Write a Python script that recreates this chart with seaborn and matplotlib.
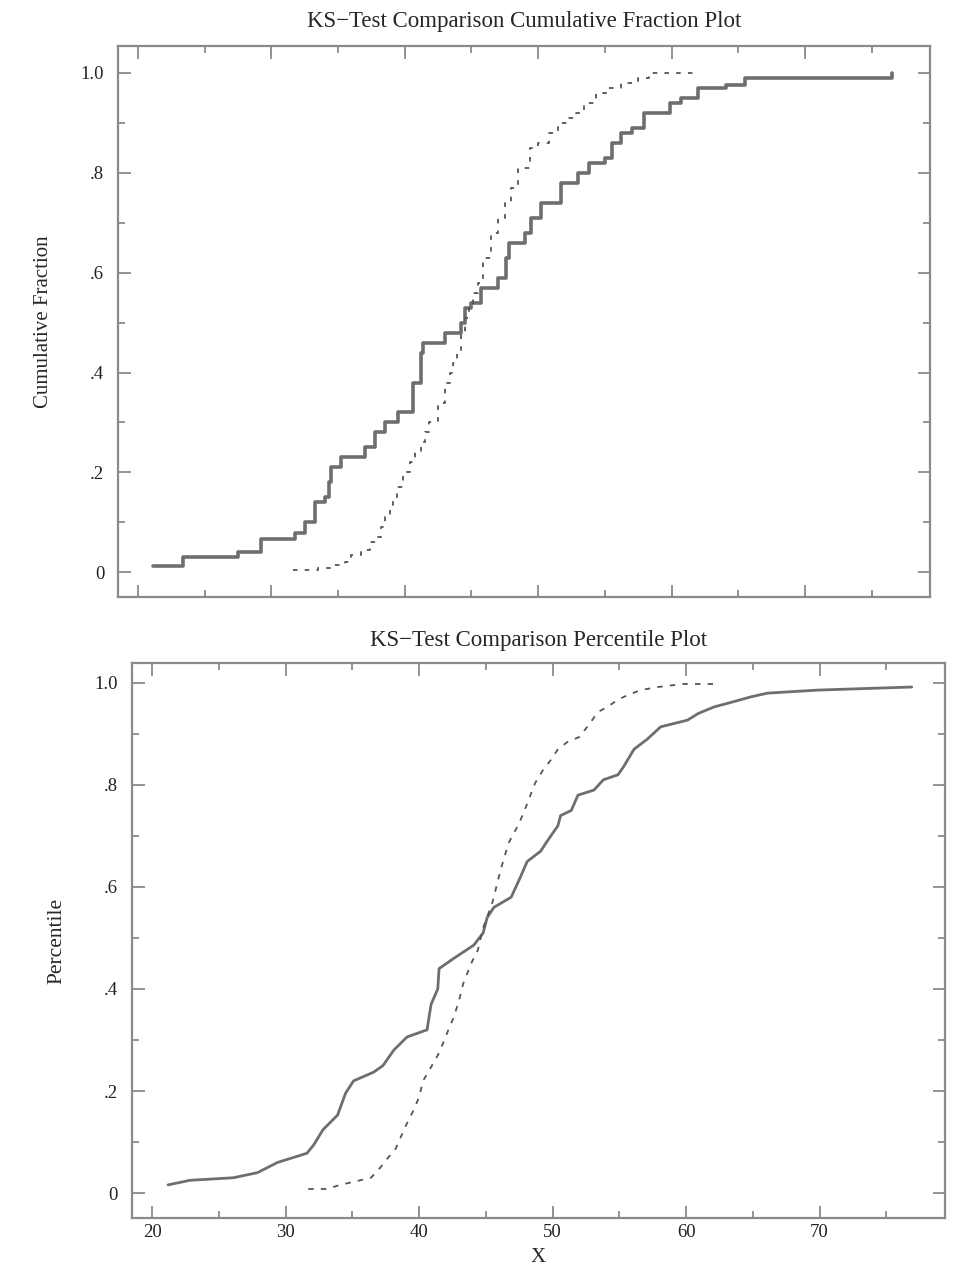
import numpy as np
import pandas as pd
import matplotlib
matplotlib.use("Agg")
import matplotlib.pyplot as plt
from matplotlib.ticker import MultipleLocator, FuncFormatter
import seaborn as sns

# sample 1 (solid) cumulative fraction steps
cum1_x = [21.1, 23.4, 27.5, 29.2, 31.8, 32.5, 33.3, 34.0, 34.3, 34.5, 35.2, 37.0,
          37.8, 38.5, 39.5, 40.6, 41.2, 41.4, 43.0, 44.2, 44.5, 45.0, 45.7, 47.0,
          47.6, 47.8, 49.0, 49.5, 50.2, 51.7, 53.0, 53.8, 55.0, 55.5, 56.2, 57.0,
          57.9, 59.9, 60.7, 62.0, 64.1, 65.5, 76.5]
cum1_y = [0.012, 0.03, 0.04, 0.066, 0.078, 0.10, 0.14, 0.15, 0.18, 0.21, 0.23, 0.25,
          0.28, 0.30, 0.32, 0.38, 0.44, 0.46, 0.48, 0.50, 0.53, 0.54, 0.57, 0.59,
          0.63, 0.66, 0.68, 0.71, 0.74, 0.78, 0.80, 0.82, 0.83, 0.86, 0.88, 0.89,
          0.92, 0.94, 0.95, 0.97, 0.975, 0.99, 1.0]

# sample 2 (dashed) cumulative fraction steps
cum2_x = [31.6, 33.5, 34.5, 35.5, 36.0, 36.7, 37.4, 37.9, 38.2, 38.5, 38.9, 39.1,
          39.4, 39.9, 40.4, 40.8, 41.2, 41.5, 41.8, 42.5, 43.0, 43.4, 43.6, 43.9,
          44.2, 44.5, 44.8, 45.1, 45.5, 45.9, 46.5, 47.0, 47.5, 48.0, 48.5, 49.4,
          50.0, 50.8, 51.5, 52.3, 52.8, 53.4, 54.3, 55.3, 56.2, 57.5, 58.3, 62.0]
cum2_y = [0.004, 0.008, 0.014, 0.02, 0.034, 0.044, 0.06, 0.07, 0.09, 0.11, 0.128, 0.15,
          0.17, 0.20, 0.22, 0.24, 0.26, 0.28, 0.30, 0.34, 0.38, 0.40, 0.42, 0.44,
          0.48, 0.51, 0.53, 0.56, 0.58, 0.63, 0.68, 0.71, 0.74, 0.77, 0.81, 0.85,
          0.86, 0.88, 0.90, 0.91, 0.92, 0.94, 0.96, 0.97, 0.98, 0.99, 1.0, 1.0]

# percentile curves
pct1_x = [21.2, 22.85, 26.1, 27.9, 29.4, 31.6, 32.1, 32.8, 33.9, 34.5, 35.1, 36.6,
          37.3, 38.1, 39.1, 40.6, 40.9, 41.4, 41.5, 42.6, 44.1, 44.8, 45.1, 45.6,
          46.9, 47.6, 48.1, 49.1, 49.6, 50.4, 50.6, 51.4, 51.9, 53.1, 53.8, 54.9,
          55.3, 56.1, 57.1, 58.1, 60.1, 60.9, 62.1, 63.1, 64.9, 66.1, 69.9, 76.9]
pct1_y = [0.016, 0.025, 0.03, 0.04, 0.06, 0.078, 0.094, 0.124, 0.153, 0.196, 0.22, 0.237,
          0.25, 0.28, 0.306, 0.32, 0.37, 0.40, 0.44, 0.46, 0.486, 0.51, 0.54, 0.56,
          0.58, 0.62, 0.65, 0.67, 0.69, 0.72, 0.74, 0.75, 0.78, 0.79, 0.81, 0.82,
          0.835, 0.87, 0.89, 0.914, 0.927, 0.94, 0.953, 0.96, 0.973, 0.98, 0.986, 0.992]

pct2_x = [31.7, 33.1, 34.1, 35.1, 36.4, 37.1, 37.7, 38.2, 38.6, 39.1, 39.6, 40.0,
          40.3, 40.9, 41.4, 41.8, 42.2, 42.6, 43.0, 43.3, 43.9, 44.4, 44.8, 45.5,
          46.1, 46.7, 47.5, 48.0, 48.4, 48.7, 49.3, 49.9, 50.4, 51.1, 52.0, 52.6,
          53.4, 54.1, 54.9, 55.6, 56.6, 57.9, 59.8, 62.1]
pct2_y = [0.008, 0.008, 0.016, 0.022, 0.03, 0.05, 0.07, 0.084, 0.108, 0.137, 0.163, 0.188,
          0.22, 0.247, 0.27, 0.294, 0.32, 0.345, 0.378, 0.41, 0.45, 0.476, 0.52, 0.57,
          0.633, 0.686, 0.725, 0.757, 0.784, 0.804, 0.83, 0.85, 0.87, 0.884, 0.894, 0.914,
          0.943, 0.953, 0.967, 0.976, 0.986, 0.992, 0.998, 0.998]

sns.set_style("ticks")
plt.rcParams["font.family"] = ["Liberation Serif", "DejaVu Serif"]
plt.rcParams["axes.edgecolor"] = "#8a8a8a"
plt.rcParams["axes.linewidth"] = 1.6
plt.rcParams["xtick.color"] = "#8a8a8a"
plt.rcParams["ytick.color"] = "#8a8a8a"
plt.rcParams["xtick.labelcolor"] = "#222222"
plt.rcParams["ytick.labelcolor"] = "#222222"

fig = plt.figure(figsize=(9.6, 12.68), dpi=100)
ax1 = fig.add_axes([0.123, 0.529, 0.846, 0.4347])
ax2 = fig.add_axes([0.1375, 0.0394, 0.847, 0.4377])

solid_col = "#6e6e6e"
dash_col = "#555555"

# top: step ECDFs
sns.lineplot(x=cum1_x, y=cum1_y, ax=ax1, color=solid_col, lw=2.6,
             drawstyle="steps-post", estimator=None, sort=False)
sns.lineplot(x=cum2_x, y=cum2_y, ax=ax1, color=dash_col, lw=1.3,
             linestyle=(0, (2.5, 4)), drawstyle="steps-post", estimator=None, sort=False)

# bottom: percentile lines
sns.lineplot(x=pct1_x, y=pct1_y, ax=ax2, color=solid_col, lw=2.0,
             estimator=None, sort=False)
sns.lineplot(x=pct2_x, y=pct2_y, ax=ax2, color=dash_col, lw=1.3,
             linestyle=(0, (3, 4)), estimator=None, sort=False)

fmt = FuncFormatter(lambda v, p: "0" if abs(v) < 1e-9 else ("1.0" if abs(v - 1) < 1e-9 else ("%.1f" % v).lstrip("0")))

for ax in (ax1, ax2):
    ax.set_xlim(18.5, 79.4)
    ax.xaxis.set_major_locator(MultipleLocator(10))
    ax.xaxis.set_minor_locator(MultipleLocator(5))
    ax.yaxis.set_major_locator(MultipleLocator(0.2))
    ax.yaxis.set_minor_locator(MultipleLocator(0.1))
    ax.yaxis.set_major_formatter(fmt)
    ax.tick_params(which="both", direction="in", top=True, right=True, width=1.3)
    ax.tick_params(which="major", length=9, labelsize=13.5)
    ax.tick_params(axis="y", which="major", pad=10)
    ax.tick_params(axis="x", which="major", pad=4)
    ax.tick_params(which="minor", length=5)

ax1.set_ylim(-0.05, 1.054)
ax2.set_ylim(-0.049, 1.039)
ax1.tick_params(axis="x", labelbottom=False)

ax1.set_title("KS\u2212Test Comparison Cumulative Fraction Plot", fontsize=16.5, pad=14)
ax2.set_title("KS\u2212Test Comparison Percentile Plot", fontsize=16.5, pad=12)
ax1.set_ylabel("Cumulative Fraction", fontsize=15, labelpad=20)
ax2.set_ylabel("Percentile", fontsize=15.5, labelpad=20)
ax2.set_xlabel("X", fontsize=15, labelpad=5)
ax1.set_xlabel("")

fig.savefig("out.png", dpi=100)
